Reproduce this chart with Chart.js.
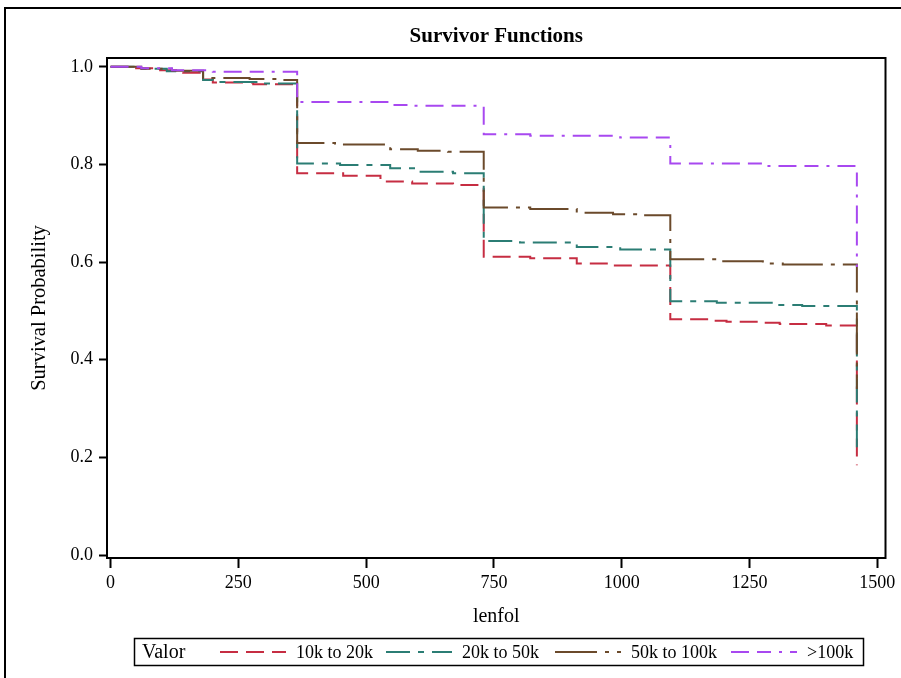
<!DOCTYPE html>
<html>
<head>
<meta charset="utf-8">
<script src="https://cdn.jsdelivr.net/npm/chart.js@4.4.1/dist/chart.umd.min.js"></script>
<style>
  html, body { margin: 0; padding: 0; background: #fff; }
</style>
</head>
<body>
<canvas id="km" width="901" height="678"></canvas>
<script>
// Kaplan-Meier step data (time in days, survival prob)
const groups = ['10k to 20k', '20k to 50k', '50k to 100k', '>100k'];

const tRed = [0, 45, 91, 142, 181, 200, 279, 365, 455, 528, 590, 670, 730, 821, 912, 983, 1095, 1172, 1205, 1276, 1309, 1400, 1460];
const sRed = [1.0, 0.997, 0.993, 0.988, 0.974, 0.968, 0.964, 0.782, 0.777, 0.765, 0.761, 0.758, 0.611, 0.608, 0.597, 0.593, 0.483, 0.480, 0.478, 0.476, 0.473, 0.470, 0.184];

const tTeal = [0, 50, 110, 181, 200, 300, 365, 449, 547, 600, 670, 730, 801, 912, 997, 1095, 1186, 1296, 1353, 1460];
const sTeal = [1.0, 0.996, 0.991, 0.973, 0.969, 0.966, 0.802, 0.799, 0.792, 0.785, 0.782, 0.643, 0.640, 0.631, 0.626, 0.520, 0.517, 0.512, 0.510, 0.221];

const tBrown = [0, 60, 120, 181, 272, 330, 365, 439, 547, 601, 660, 730, 821, 912, 983, 1041, 1095, 1186, 1276, 1315, 1460];
const sBrown = [1.0, 0.996, 0.992, 0.977, 0.975, 0.973, 0.844, 0.841, 0.831, 0.828, 0.826, 0.712, 0.709, 0.701, 0.698, 0.696, 0.606, 0.602, 0.597, 0.595, 0.340];

const tPurple = [0, 60, 120, 200, 365, 547, 590, 730, 821, 997, 1095, 1276, 1460];
const sPurple = [1.0, 0.997, 0.993, 0.990, 0.928, 0.922, 0.920, 0.862, 0.859, 0.855, 0.802, 0.797, 0.590];

const xTicks = [0, 250, 500, 750, 1000, 1250, 1500];
const yTicks = [0, 0.2, 0.4, 0.6, 0.8, 1.0];

const serif = 'Liberation Serif';

function pts(t, s) {
  return t.map((v, i) => ({ x: v, y: s[i] }));
}

function line(label, t, s, color, dash, order) {
  return {
    label: label,
    data: pts(t, s),
    borderColor: color,
    backgroundColor: color,
    borderWidth: 2,
    borderDash: dash,
    stepped: true,
    pointRadius: 0,
    fill: false,
    order: order
  };
}

// frame, outer border, title and the boxed legend
const legendX = [220, 386, 555, 731];

const decor = {
  id: 'decor',
  afterDraw(chart) {
    const ctx = chart.ctx;
    const a = chart.chartArea;
    ctx.save();
    ctx.strokeStyle = '#000';
    ctx.lineWidth = 2;
    ctx.setLineDash([]);
    ctx.strokeRect(a.left, a.top, a.right - a.left, a.bottom - a.top);

    // outer graph border (left and top edges are visible)
    ctx.beginPath();
    ctx.moveTo(5, 678);
    ctx.lineTo(5, 8);
    ctx.lineTo(901, 8);
    ctx.stroke();

    ctx.fillStyle = '#000';
    ctx.font = 'bold 21px "' + serif + '"';
    ctx.textAlign = 'center';
    ctx.textBaseline = 'middle';
    ctx.fillText('Survivor Functions', (a.left + a.right) / 2, 37);

    // legend
    ctx.lineWidth = 1.5;
    ctx.strokeRect(134.5, 638.5, 729, 27);
    ctx.textAlign = 'left';
    ctx.font = '20px "' + serif + '"';
    ctx.fillText('Valor', 142, 653);
    ctx.font = '18px "' + serif + '"';
    chart.data.datasets.forEach((ds, i) => {
      const x = legendX[i];
      ctx.strokeStyle = ds.borderColor;
      ctx.lineWidth = 2;
      ctx.setLineDash(ds.borderDash);
      ctx.beginPath();
      ctx.moveTo(x, 652);
      ctx.lineTo(x + 66, 652);
      ctx.stroke();
      ctx.setLineDash([]);
      ctx.fillText(ds.label, x + 76, 653);
    });
    ctx.restore();
  }
};

new Chart(document.getElementById('km').getContext('2d'), {
  type: 'line',
  data: {
    datasets: [
      line(groups[0], tRed, sRed, '#C62D42', [18, 8], 3),
      line(groups[1], tTeal, sTeal, '#2B7D74', [24, 8, 6, 8], 2),
      line(groups[2], tBrown, sBrown, '#6B4A2B', [42, 8, 4, 8], 1),
      line(groups[3], tPurple, sPurple, '#A848F0', [18, 8, 14, 8, 3, 8], 0)
    ]
  },
  options: {
    responsive: false,
    animation: false,
    devicePixelRatio: 1,
    layout: { padding: { top: 58, right: 15.5, left: 0, bottom: 0 } },
    plugins: {
      legend: { display: false },
      tooltip: { enabled: false }
    },
    scales: {
      x: {
        type: 'linear',
        min: -7,
        max: 1516,
        afterBuildTicks: s => { s.ticks = xTicks.map(v => ({ value: v })); },
        afterFit: s => { s.height = 120; },
        grid: { display: true, drawOnChartArea: false, drawTicks: true, tickLength: 10, tickColor: '#000', tickWidth: 2 },
        border: { display: true, color: '#000', width: 2 },
        ticks: { color: '#000', font: { family: serif, size: 18 }, padding: 4, maxRotation: 0, callback: v => String(v) },
        title: { display: true, text: 'lenfol', color: '#000', font: { family: serif, size: 20 }, padding: { top: 0, bottom: 49 } }
      },
      y: {
        min: -0.006,
        max: 1.018,
        afterBuildTicks: s => { s.ticks = yTicks.map(v => ({ value: v })); },
        afterFit: s => { s.width = 107; },
        grid: { display: true, drawOnChartArea: false, drawTicks: true, tickLength: 8, tickColor: '#000', tickWidth: 2 },
        border: { display: true, color: '#000', width: 2 },
        ticks: { color: '#000', font: { family: serif, size: 18 }, padding: 6, callback: v => v.toFixed(1) },
        title: { display: true, text: 'Survival Probability', color: '#000', font: { family: serif, size: 20.5 }, padding: { top: 27, bottom: 0 } }
      }
    }
  },
  plugins: [decor]
});
</script>
</body>
</html>
